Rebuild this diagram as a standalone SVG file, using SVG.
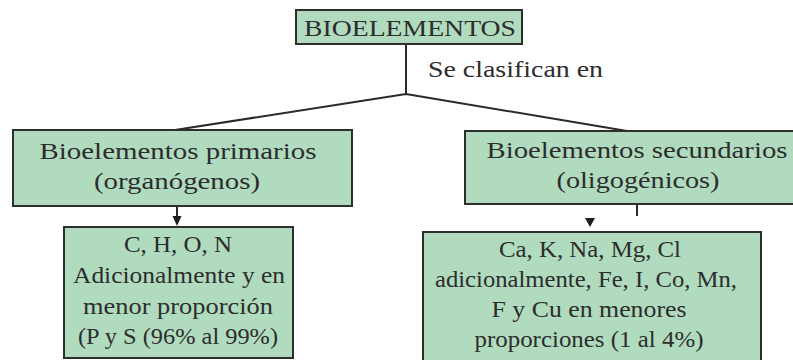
<svg xmlns="http://www.w3.org/2000/svg" width="793" height="360" viewBox="0 0 793 360">
<style>
.box{fill:#b1dbbf;stroke:#2e2e2e;stroke-width:2}
.t{font-family:"Liberation Serif","Times New Roman",serif;font-size:23px;fill:#2d2d2d;text-anchor:middle}
.l{fill:none;stroke:#2a2a2a;stroke-width:2}
.ah{fill:#1e1e1e}
</style>
<defs>
<path id="tri" d="M-5,0 L5,0 L0,9 Z"/>
</defs>
<rect width="793" height="360" fill="#ffffff"/>
<g id="connectors">
<line class="l" x1="406" y1="44" x2="406" y2="94"/>
<polyline class="l" points="175,130 406,94 627,131"/>
<line class="l" x1="177" y1="206" x2="177" y2="217"/>
<path class="ah" d="M172.5,216 L181.5,216 L177,226 Z"/>
<line class="l" x1="637" y1="205" x2="637" y2="216"/>
<use href="#tri" x="590" y="218" class="ah"/>
</g>
<g id="label-se-clasifican">
<text class="t" x="428" y="77" style="text-anchor:start" textLength="175" lengthAdjust="spacingAndGlyphs">Se clasifican en</text>
</g>
<g id="node-bioelementos">
<rect class="box" x="296" y="10" width="226" height="34"/>
<text class="t" x="410" y="36" textLength="212" lengthAdjust="spacingAndGlyphs">BIOELEMENTOS</text>
</g>
<g id="node-primarios">
<rect class="box" x="13" y="130" width="339" height="76"/>
<text class="t" x="178" y="159" textLength="277" lengthAdjust="spacingAndGlyphs">Bioelementos primarios</text>
<text class="t" x="177" y="189" textLength="166" lengthAdjust="spacingAndGlyphs">(organógenos)</text>
</g>
<g id="node-secundarios">
<rect class="box" x="465" y="131" width="340" height="73"/>
<text class="t" x="637" y="158" textLength="301" lengthAdjust="spacingAndGlyphs">Bioelementos secundarios</text>
<text class="t" x="638" y="188" textLength="163" lengthAdjust="spacingAndGlyphs">(oligogénicos)</text>
</g>
<g id="node-primarios-detalle">
<rect class="box" x="64" y="227" width="229" height="131"/>
<text class="t" x="178" y="252" textLength="108" lengthAdjust="spacingAndGlyphs">C, H, O, N</text>
<text class="t" x="179" y="283" textLength="212" lengthAdjust="spacingAndGlyphs">Adicionalmente y en</text>
<text class="t" x="178" y="314" textLength="190" lengthAdjust="spacingAndGlyphs">menor proporción</text>
<text class="t" x="178" y="344" textLength="200" lengthAdjust="spacingAndGlyphs">(P y S (96% al 99%)</text>
</g>
<g id="node-secundarios-detalle">
<rect class="box" x="423" y="232" width="338" height="140"/>
<text class="t" x="590" y="257" textLength="182" lengthAdjust="spacingAndGlyphs">Ca, K, Na, Mg, Cl</text>
<text class="t" x="586" y="287" textLength="302" lengthAdjust="spacingAndGlyphs">adicionalmente, Fe, I, Co, Mn,</text>
<text class="t" x="589" y="317" textLength="195" lengthAdjust="spacingAndGlyphs">F y Cu en menores</text>
<text class="t" x="589" y="347" textLength="229" lengthAdjust="spacingAndGlyphs">proporciones (1 al 4%)</text>
</g>
</svg>
